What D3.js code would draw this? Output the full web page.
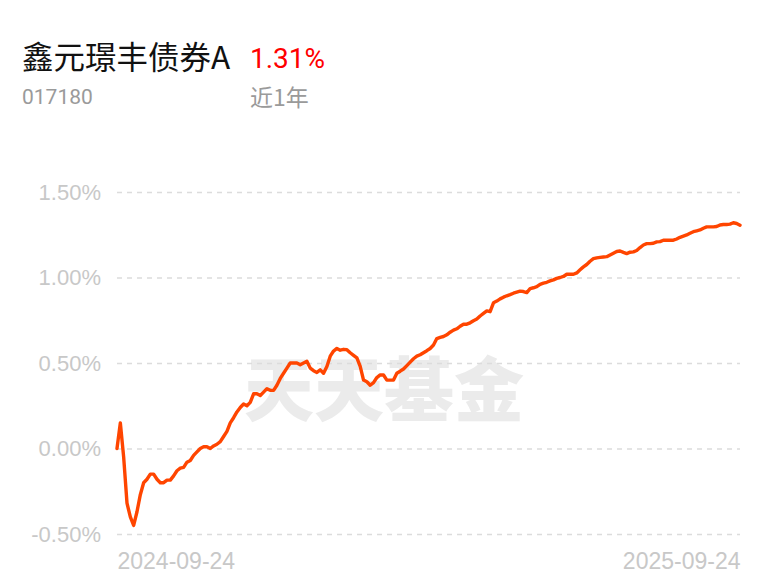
<!DOCTYPE html>
<html>
<head>
<meta charset="utf-8">
<script src="https://cdn.jsdelivr.net/npm/d3@7/dist/d3.min.js"></script>
<style>
html,body{margin:0;padding:0;background:#fff;}
svg{display:block;}
</style>
</head>
<body>
<svg id="chart" width="768" height="585"></svg>
<script>
// ---- data ----
const fundName = "鑫元璟丰债券A";
const fundCode = "017180";
const periodLabel = "近1年";
const periodReturn = "1.31%";
const startDate = "2024-09-24";
const endDate = "2025-09-24";
const yTicks = [-0.5, 0, 0.5, 1.0, 1.5];
const yTickLabels = ["-0.50%", "0.00%", "0.50%", "1.00%", "1.50%"];
// cumulative return (%) sampled evenly across the year
const returns = [
 0.00, 0.15, -0.05, -0.32, -0.40, -0.45, -0.37, -0.27, -0.20, -0.18,
 -0.15, -0.15, -0.18, -0.20, -0.20, -0.185, -0.185, -0.16, -0.13, -0.115,
 -0.11, -0.08, -0.07, -0.04, -0.02, 0.00, 0.01, 0.01, 0.00, 0.015,
 0.025, 0.04, 0.07, 0.10, 0.15, 0.18, 0.214, 0.24, 0.26, 0.25,
 0.27, 0.32, 0.32, 0.31, 0.33, 0.35, 0.34, 0.34, 0.37, 0.41,
 0.44, 0.47, 0.50, 0.50, 0.50, 0.49, 0.50, 0.51, 0.47, 0.455,
 0.445, 0.46, 0.44, 0.48, 0.54, 0.57, 0.585, 0.575, 0.58, 0.578,
 0.56, 0.545, 0.53, 0.48, 0.40, 0.39, 0.37, 0.385, 0.415, 0.43,
 0.43, 0.40, 0.40, 0.40, 0.44, 0.452, 0.465, 0.485, 0.505, 0.525,
 0.54, 0.548, 0.56, 0.572, 0.585, 0.605, 0.643, 0.65, 0.655, 0.665,
 0.68, 0.692, 0.70, 0.715, 0.727, 0.727, 0.735, 0.747, 0.757, 0.775,
 0.79, 0.805, 0.80, 0.852, 0.862, 0.875, 0.885, 0.893, 0.90, 0.908,
 0.914, 0.92, 0.918, 0.912, 0.935, 0.94, 0.946, 0.96, 0.967, 0.972,
 0.98, 0.986, 0.995, 1.00, 1.006, 1.019, 1.019, 1.019, 1.027, 1.045,
 1.062, 1.076, 1.095, 1.11, 1.115, 1.118, 1.12, 1.122, 1.132, 1.142,
 1.152, 1.155, 1.147, 1.14, 1.148, 1.15, 1.158, 1.175, 1.19, 1.198,
 1.198, 1.20, 1.208, 1.21, 1.218, 1.218, 1.218, 1.218, 1.225, 1.235,
 1.242, 1.249, 1.259, 1.268, 1.273, 1.278, 1.288, 1.296, 1.296, 1.296,
 1.298, 1.307, 1.31, 1.31, 1.312, 1.32, 1.316, 1.306
];

// ---- layout ----
const svg = d3.select("#chart");
const plot = {left: 117, right: 740, top: 192, bottom: 534};

const x = d3.scaleLinear().domain([0, returns.length - 1]).range([plot.left, plot.right]);
const y = d3.scaleLinear().domain([-0.5, 1.5]).range([plot.bottom, plot.top]);

// header
const hdrFont = "Roboto, 'Noto Sans CJK SC', sans-serif";
svg.append("text").attr("x", 22).attr("y", 69)
  .attr("font-family", "'Noto Sans CJK SC', sans-serif").attr("font-size", 31.5)
  .attr("fill", "#111").text(fundName);
svg.append("text").attr("x", 250).attr("y", 68)
  .attr("font-family", hdrFont).attr("font-size", 28)
  .attr("fill", "#ff0000").text(periodReturn);
svg.append("text").attr("x", 22).attr("y", 104)
  .attr("font-family", hdrFont).attr("font-size", 21)
  .attr("fill", "#9a9a9a").text(fundCode);
svg.append("text").attr("x", 250).attr("y", 106)
  .attr("font-family", "'Noto Sans CJK SC', sans-serif").attr("font-size", 23)
  .attr("fill", "#9a9a9a").text(periodLabel);

// watermark
svg.append("text").attr("x", 384).attr("y", 416)
  .attr("text-anchor", "middle")
  .attr("font-family", "'Noto Sans CJK SC', sans-serif")
  .attr("font-weight", 900).attr("font-size", 70)
  .attr("fill", "#ebebeb").text("天天基金");

// y axis with gridlines
const yAxis = d3.axisLeft(y)
  .tickValues(yTicks)
  .tickFormat((d, i) => yTickLabels[i])
  .tickSize(-(plot.right - plot.left))
  .tickPadding(16);
const gy = svg.append("g").attr("transform", `translate(${plot.left},0)`).call(yAxis);
gy.select(".domain").remove();
gy.selectAll(".tick line")
  .attr("stroke", "#dcdcdc").attr("stroke-width", 1.3)
  .attr("stroke-dasharray", "5,5");
gy.selectAll(".tick text")
  .attr("font-family", "'Liberation Sans', Arial, sans-serif")
  .attr("font-size", 22).attr("fill", "#c8c8c8");

// x axis labels (start / end)
const xAxis = d3.axisBottom(x)
  .tickValues([0, returns.length - 1])
  .tickFormat((d, i) => i === 0 ? startDate : endDate)
  .tickSize(0).tickPadding(19);
const gx = svg.append("g").attr("transform", `translate(0,${plot.bottom})`).call(xAxis);
gx.select(".domain").remove();
gx.selectAll(".tick text")
  .attr("font-family", "'Liberation Sans', Arial, sans-serif")
  .attr("font-size", 23).attr("fill", "#c8c8c8")
  .attr("text-anchor", (d, i) => i === 0 ? "start" : "end");

// line
const line = d3.line().x((d, i) => x(i)).y(d => y(d));
svg.append("path").datum(returns)
  .attr("fill", "none").attr("stroke", "#ff4500")
  .attr("stroke-width", 3.4).attr("stroke-linejoin", "round").attr("stroke-linecap", "round")
  .attr("d", line);
</script>
</body>
</html>
